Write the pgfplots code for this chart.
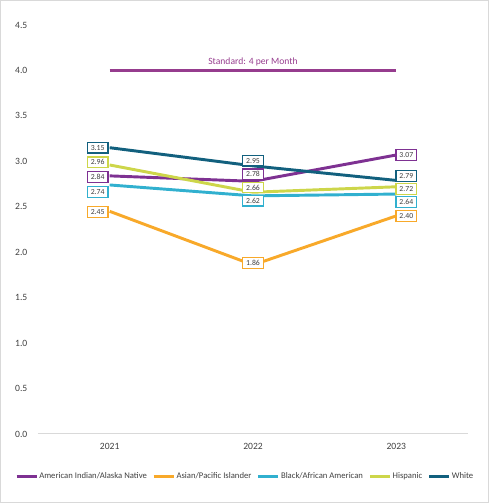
\documentclass[border=0pt]{standalone}
\usepackage{fontspec}
\setmainfont{Carlito}
\usepackage{pgfplots}
\usepackage{pgfplotstable}
\pgfplotsset{compat=1.18}

\definecolor{aian}{HTML}{7E3192}
\definecolor{api}{HTML}{F8A92A}
\definecolor{blk}{HTML}{31B0CF}
\definecolor{hisp}{HTML}{CDD64A}
\definecolor{wht}{HTML}{12607E}
\definecolor{stdc}{HTML}{963C8E}
\definecolor{txt}{HTML}{404040}
\definecolor{brd}{HTML}{D9D9D9}

% x, value, label x-shift (pt), label y-shift (pt)
\pgfplotstableread{
x y dx dy
0 2.84 -9 -1
1 2.78 0 5.25
2 3.07 7.5 0
}\aian
\pgfplotstableread{
x y dx dy
0 2.45 -9 -0.4
1 1.86 0 1.3
2 2.40 7.5 0
}\api
\pgfplotstableread{
x y dx dy
0 2.74 -9 -5.25
1 2.62 0 -3.6
2 2.64 7.5 -6
}\blk
\pgfplotstableread{
x y dx dy
0 2.96 -9 2
1 2.66 0 3.6
2 2.72 7.5 -1.6
}\hisp
\pgfplotstableread{
x y dx dy
0 3.15 -9 0
1 2.95 0 3.9
2 2.79 7.5 3.3
}\wht

\pgfplotsset{
  lbl/.style={draw=none, forget plot,
    visualization depends on={\thisrow{dx} \as \dx},
    visualization depends on={\thisrow{dy} \as \dy},
    nodes near coords={\pgfmathprintnumber[fixed,fixed zerofill,precision=2]{\pgfplotspointmeta}},
    nodes near coords style={anchor=center, xshift={\dx*1pt}, yshift={\dy*1pt},
      draw=#1, fill=white, line width=0.8pt, text=txt,
      font=\fontsize{5.8}{6.5}\selectfont, inner sep=1pt,
      minimum width=15.5pt, minimum height=8pt}},
  ln/.style={color=#1, line width=2.2pt, mark=none},
}

\begin{document}
\begin{tikzpicture}
\path (0,0) rectangle (366.75pt,377.25pt);
\draw[brd, line width=0.75pt] (0.375pt,0.375pt) rectangle (366.375pt,376.875pt);
\begin{axis}[
  at={(28.5pt,51.75pt)}, anchor=south west,
  scale only axis, width=322.5pt, height=306.75pt,
  xmin=-0.5, xmax=2.5, ymin=0, ymax=4.5,
  xtick={0,1,2}, xticklabels={2021,2022,2023},
  ytick={0,0.5,1,1.5,2,2.5,3,3.5,4,4.5},
  axis x line*=bottom, axis y line*=left,
  x axis line style={draw=brd, line width=0.75pt, -},
  y axis line style={draw=none},
  major tick length=0pt,
  tick style={draw=none},
  /pgf/number format/assume math mode=true,
  ticklabel style={font=\fontsize{7.2}{8}\selectfont, text=txt},
  yticklabel style={/pgf/number format/fixed, /pgf/number format/fixed zerofill, /pgf/number format/precision=1, xshift=-4.5pt},
  x tick label style={yshift=-3.5pt},
  clip=false,
  legend columns=5,
  legend style={at={(0.481,-0.105)}, anchor=center, draw=none, fill=none,
    font=\fontsize{6.5}{7}\selectfont, text=txt,
    /tikz/every even column/.append style={column sep=3pt},
    nodes={inner xsep=1pt}},
  legend image code/.code={\draw[#1, line width=2.2pt] (0pt,0pt) -- (15pt,0pt);},
]
\addplot[stdc, line width=2.2pt, forget plot] coordinates {(0,4) (2,4)}
  node[pos=0.5, anchor=center, yshift=6.2pt, text=stdc, font=\fontsize{7.2}{8}\selectfont] {Standard: 4 per Month};

\addplot[ln=aian] table[x=x,y=y] {\aian};
\addlegendentry{American Indian/Alaska Native}
\addplot[ln=api] table[x=x,y=y] {\api};
\addlegendentry{Asian/Pacific Islander}
\addplot[ln=blk] table[x=x,y=y] {\blk};
\addlegendentry{Black/African American}
\addplot[ln=hisp] table[x=x,y=y] {\hisp};
\addlegendentry{Hispanic}
\addplot[ln=wht] table[x=x,y=y] {\wht};
\addlegendentry{White}

\addplot[lbl=aian] table[x=x,y=y] {\aian};
\addplot[lbl=api] table[x=x,y=y] {\api};
\addplot[lbl=blk] table[x=x,y=y] {\blk};
\addplot[lbl=hisp] table[x=x,y=y] {\hisp};
\addplot[lbl=wht] table[x=x,y=y] {\wht};
\end{axis}
\end{tikzpicture}
\end{document}
